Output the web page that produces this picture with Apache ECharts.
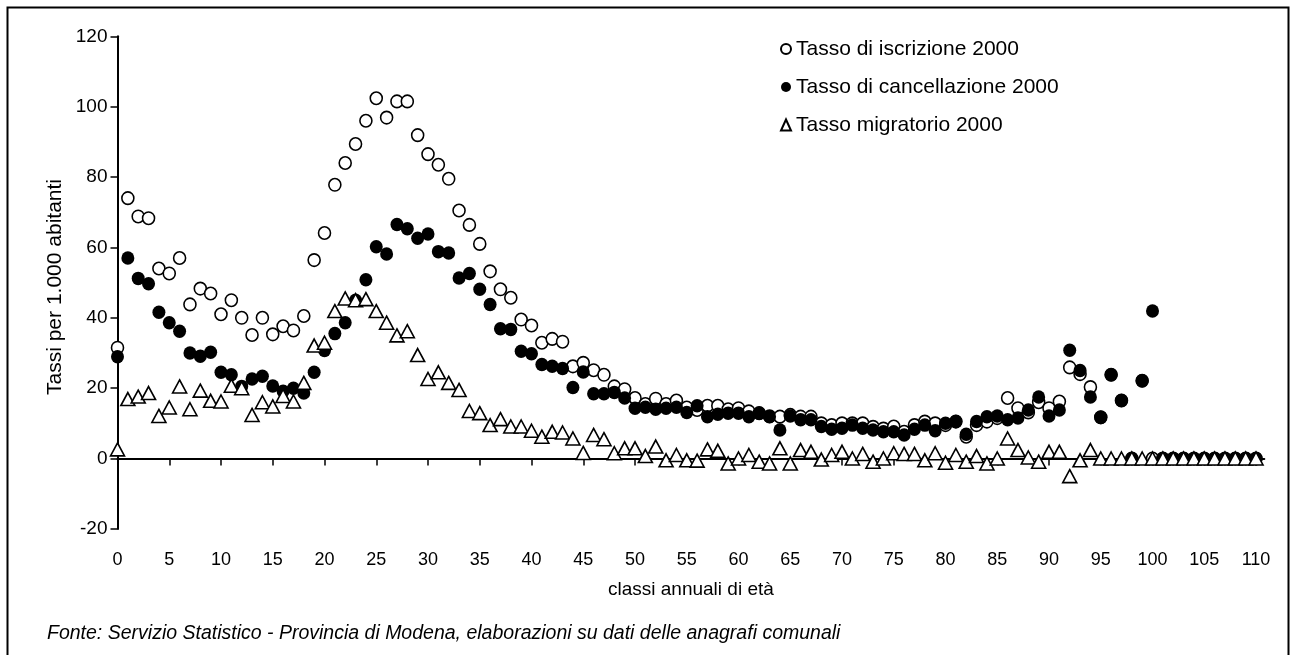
<!DOCTYPE html>
<html>
<head>
<meta charset="utf-8">
<script src="https://cdn.jsdelivr.net/npm/echarts@6/dist/echarts.min.js"></script>
<style>
  html, body { margin: 0; padding: 0; background: #fff; }
  #chart { width: 1290px; height: 655px; }
</style>
</head>
<body>
<div id="chart"></div>
<script>
// classi annuali di età 0..110
var ages = []
for (var a = 0; a <= 110; a++) ages.push(a)

var xTicks = [0, 5, 10, 15, 20, 25, 30, 35, 40, 45, 50, 55, 60, 65, 70, 75, 80, 85, 90, 95, 100, 105, 110]

// Tasso di iscrizione 2000
var iscrizione = [
  31.5, 74.0, 68.8, 68.3, 54.0, 52.6, 57.0, 43.8, 48.3, 46.9,
  41.0, 45.0, 40.0, 35.1, 40.0, 35.3, 37.6, 36.4, 40.5, 56.4,
  64.1, 77.8, 84.0, 89.4, 96.0, 102.4, 96.9, 101.5, 101.5, 91.9,
  86.5, 83.5, 79.5, 70.5, 66.4, 61.0, 53.2, 48.1, 45.7, 39.5,
  37.8, 32.9, 34.0, 33.2, 26.2, 27.2, 25.1, 23.8, 20.5, 19.7,
  17.2, 15.5, 17.0, 15.5, 16.5, 14.5, 13.8, 15.0, 15.0, 14.0,
  14.3, 13.4, 12.9, 12.0, 11.9, 12.4, 11.9, 11.9, 10.0, 9.5,
  10.0, 10.0, 10.0, 9.0, 8.5, 9.1, 7.6, 9.5, 10.5, 10.0,
  9.5, 10.5, 6.2, 9.5, 10.5, 11.5, 17.2, 14.3, 13.1, 16.0,
  14.3, 16.2, 25.9, 24.0, 20.3, 11.7, 23.8, 16.5, 0, 22.1,
  0, 0, 0, 0, 0, 0, 0, 0, 0, 0, 0
]

// Tasso di cancellazione 2000
var cancellazione = [
  28.9, 57.0, 51.2, 49.7, 41.6, 38.6, 36.2, 30.0, 29.1, 30.2,
  24.5, 23.8, 20.5, 22.6, 23.4, 20.6, 19.1, 20.0, 18.6, 24.5,
  30.7, 35.5, 38.6, 45.0, 50.8, 60.2, 58.1, 66.5, 65.3, 62.6,
  63.8, 58.8, 58.4, 51.3, 52.6, 48.1, 43.8, 36.9, 36.7, 30.5,
  29.8, 26.7, 26.2, 25.6, 20.2, 24.6, 18.4, 18.4, 18.8, 17.2,
  14.3, 14.6, 14.0, 14.3, 14.6, 13.1, 15.0, 11.9, 12.6, 12.9,
  12.9, 11.9, 12.9, 11.9, 8.1, 12.1, 11.0, 11.0, 9.1, 8.3,
  8.6, 9.5, 8.6, 8.1, 7.6, 7.6, 6.7, 8.3, 9.5, 7.9,
  10.0, 10.5, 6.9, 10.5, 11.9, 12.1, 11.0, 11.5, 13.8, 17.5,
  12.1, 13.8, 30.8, 25.0, 17.5, 11.7, 23.8, 16.5, 0, 22.1,
  41.9, 0, 0, 0, 0, 0, 0, 0, 0, 0, 0
]

// Tasso migratorio 2000
var migratorio = [
  2.6, 16.9, 17.6, 18.6, 12.1, 14.5, 20.5, 14.0, 19.3, 16.4,
  16.2, 20.7, 20.0, 12.4, 16.0, 14.8, 17.8, 16.2, 21.5, 32.1,
  32.9, 41.9, 45.5, 45.0, 45.3, 41.9, 38.6, 35.0, 36.2, 29.4,
  22.6, 24.5, 21.5, 19.5, 13.5, 12.9, 9.5, 11.2, 9.1, 9.1,
  7.9, 6.2, 7.6, 7.4, 5.7, 1.6, 6.7, 5.5, 1.5, 2.9,
  2.9, 0.7, 3.4, -0.5, 1.0, -0.5, -0.6, 2.6, 2.2, -1.4,
  0.0, 1.0, -0.9, -1.4, 2.9, -1.4, 2.4, 1.9, -0.3, 1.0,
  1.9, 0.0, 1.3, -0.9, 0.0, 1.5, 1.3, 1.3, -0.5, 1.5,
  -1.2, 1.0, -0.9, 0.7, -1.4, 0.0, 5.7, 2.4, 0.3, -0.9,
  1.9, 1.9, -5.0, -0.5, 2.4, 0, 0, 0, 0, 0,
  0, 0, 0, 0, 0, 0, 0, 0, 0, 0, 0
]

var names = ['Tasso di iscrizione 2000', 'Tasso di cancellazione 2000', 'Tasso migratorio 2000']

function pairs(vals) {
  return ages.map(function (age, i) { return [age, vals[i]] })
}

var font = 'Liberation Sans, Arial, sans-serif'
var myChart = echarts.init(document.getElementById('chart'), null, { renderer: 'canvas' })

var option = {
  backgroundColor: '#ffffff',
  animation: false,
  textStyle: { fontFamily: font, color: '#000' },
  grid: {
    left: 117.5,
    right: 25.7,
    top: 36.3,
    bottom: 126.1,
    containLabel: false,
  },
  legend: {
    orient: 'vertical',
    left: 775,
    top: 33,
    itemWidth: 10,
    itemHeight: 11,
    itemGap: 16,
    data: names,
    textStyle: { fontFamily: font, fontSize: 21, color: '#000', lineHeight: 22 },
  },
  xAxis: [
    {
      type: 'value',
      min: 0,
      max: 110.8,
      position: 'bottom',
      axisLine: { onZero: true, lineStyle: { color: '#000', width: 2 } },
      axisTick: { show: true, length: 7, lineStyle: { color: '#000', width: 1.5 }, customValues: xTicks },
      axisLabel: { show: false },
      splitLine: { show: false },
    },
    {
      type: 'value',
      min: 0,
      max: 110.8,
      position: 'bottom',
      axisLine: { show: false, onZero: false },
      axisTick: { show: false },
      axisLabel: { margin: 22, fontSize: 18, color: '#000', fontFamily: font, customValues: xTicks },
      splitLine: { show: false },
      name: 'classi annuali di età',
      nameLocation: 'middle',
      nameGap: 51,
      nameTextStyle: { fontSize: 19, color: '#000', fontFamily: font },
    },
  ],
  yAxis: {
    type: 'value',
    min: -20,
    max: 120,
    interval: 20,
    axisLine: { show: true, onZero: false, lineStyle: { color: '#000', width: 2 } },
    axisTick: { show: true, length: 7, lineStyle: { color: '#000', width: 1.5 } },
    axisLabel: { margin: 10, fontSize: 19, color: '#000', fontFamily: font },
    splitLine: { show: false },
  },
  series: [
    {
      name: names[0],
      type: 'scatter',
      xAxisIndex: 0,
      symbol: 'circle',
      symbolSize: [12, 12.5],
      itemStyle: { color: '#fff', borderColor: '#000', borderWidth: 1.6, opacity: 1 },
      data: pairs(iscrizione),
    },
    {
      name: names[1],
      type: 'scatter',
      xAxisIndex: 0,
      symbol: 'circle',
      symbolSize: [13, 13.5],
      itemStyle: { color: '#000', borderWidth: 0, opacity: 1 },
      data: pairs(cancellazione),
    },
    {
      name: names[2],
      type: 'scatter',
      xAxisIndex: 0,
      symbol: 'triangle',
      symbolSize: [14, 13],
      itemStyle: { color: '#fff', borderColor: '#000', borderWidth: 1.6, opacity: 1 },
      data: pairs(migratorio),
    },
  ],
  graphic: [
    {
      type: 'rect',
      left: 5,
      top: 5,
      shape: { width: 1281, height: 700 },
      style: { fill: null, stroke: '#000', lineWidth: 2 },
      silent: true,
    },
    {
      // titolo asse y
      type: 'text',
      x: 55,
      y: 287,
      rotation: Math.PI / 2,
      style: {
        text: 'Tassi per 1.000 abitanti',
        font: '21px Liberation Sans, Arial, sans-serif',
        fill: '#000',
        align: 'center',
        verticalAlign: 'middle',
      },
    },
    {
      type: 'text',
      left: 47,
      top: 624,
      style: {
        text: 'Fonte: Servizio Statistico - Provincia di Modena, elaborazioni su dati delle anagrafi comunali',
        font: 'italic 19.5px Liberation Sans, Arial, sans-serif',
        fill: '#000',
      },
    },
  ],
}
myChart.setOption(option)
</script>
</body>
</html>
